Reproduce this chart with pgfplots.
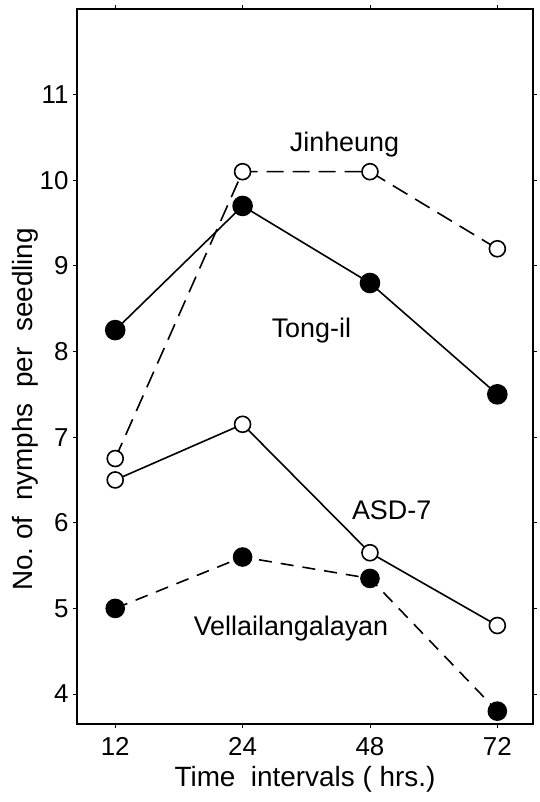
\documentclass[border=0pt]{standalone}
\usepackage{pgfplots}
\pgfplotsset{compat=1.18}
\usepackage{fontspec}
\setmainfont{Liberation Sans}
\begin{document}
\begin{tikzpicture}
\path[use as bounding box] (-77bp,-78bp) rectangle (463bp,724bp);
\begin{axis}[
  at={(0,0)}, anchor=south west,
  scale only axis, width=456bp, height=715bp,
  xmin=-0.3, xmax=3.28, ymin=3.65, ymax=12,
  xtick={0,1,2,3}, xticklabels={12,24,48,72},
  ytick={4,5,6,7,8,9,10,11},
  tick align=outside, major tick length=4bp,
  tick style={black, line width=0.8bp},
  axis line style={line width=1.2bp},
  /pgf/number format/assume math mode=true,
  ticklabel style={font=\fontsize{26}{30}\selectfont},
  xticklabel style={yshift=-6bp},
  yticklabel style={xshift=-1bp},
  xlabel={Time\ \ intervals ( hrs.)},
  ylabel={No.\ of\ \ nymphs\ \ per\ \ seedling},
  label style={font=\fontsize{28}{32}\selectfont},
  xlabel style={yshift=-4bp},
  ylabel style={at={(axis description cs:-0.113,0.44)}, anchor=center},
  every axis plot/.append style={line width=1.6bp},
]
% Jinheung: open circles, dashed
\addplot[black, dash pattern=on 17bp off 9bp, mark=*, mark size=8bp,
  mark options={solid, fill=white, line width=1.6bp}]
  coordinates {(0,6.75) (1,10.1) (2,10.1) (3,9.2)};
% Tong-il: filled circles, solid
\addplot[black, solid, mark=*, mark size=9.5bp, mark options={fill=black}]
  coordinates {(0,8.25) (1,9.7) (2,8.8) (3,7.5)};
% ASD-7: open circles, solid
\addplot[black, solid, mark=*, mark size=8bp,
  mark options={fill=white, line width=1.6bp}]
  coordinates {(0,6.5) (1,7.15) (2,5.65) (3,4.8)};
% Vellailangalayan: filled circles, dashed
\addplot[black, dash pattern=on 13bp off 9bp, mark=*, mark size=9bp,
  mark options={solid, fill=black}]
  coordinates {(0,5.0) (1,5.6) (2,5.35) (3,3.8)};
\node[font=\fontsize{27}{30}\selectfont] at (axis cs:1.8,10.42) {Jinheung};
\node[font=\fontsize{27}{30}\selectfont] at (axis cs:1.54,8.25) {Tong-il};
\node[font=\fontsize{27}{30}\selectfont] at (axis cs:2.17,6.15) {ASD-7};
\node[font=\fontsize{27}{30}\selectfont] at (axis cs:1.38,4.77) {Vellailangalayan};
\end{axis}
\end{tikzpicture}
\end{document}
